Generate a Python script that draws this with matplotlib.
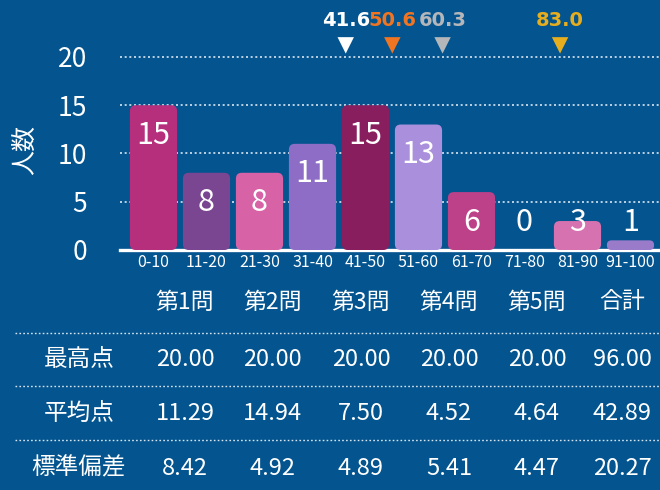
import numpy as np
import matplotlib
matplotlib.use('Agg')
import matplotlib.pyplot as plt
from matplotlib.patches import FancyBboxPatch
from matplotlib.lines import Line2D

# data
bins = ['0-10', '11-20', '21-30', '31-40', '41-50', '51-60', '61-70', '71-80', '81-90', '91-100']
counts = [15, 8, 8, 11, 15, 13, 6, 0, 3, 1]
bar_colors = ['#B62F7D', '#7A4591', '#D762A6', '#8D6DC5', '#891E5E',
              '#AA8FDD', '#BC4189', '#D05C9E', '#D772B0', '#9A7BC9']
marker_scores = [41.6, 50.6, 60.3, 83.0]
marker_colors = ['#FFFFFF', '#F07522', '#B4B6BA', '#E6AE1F']

questions = ['第1問', '第2問', '第3問', '第4問', '第5問', '合計']
row_names = ['最高点', '平均点', '標準偏差']
max_pts = [20.00, 20.00, 20.00, 20.00, 20.00, 96.00]
mean_pts = [11.29, 14.94, 7.50, 4.52, 4.64, 42.89]
std_pts = [8.42, 4.92, 4.89, 5.41, 4.47, 20.27]

bg = '#03548F'
plt.rcParams['font.family'] = ['Noto Sans CJK JP', 'DejaVu Sans']

W, H = 660, 490
fig = plt.figure(figsize=(6.6, 4.9), dpi=100, facecolor=bg)
ax = fig.add_axes([120 / W, (H - 250) / H, 540 / W, 250 / H])
ax.set_facecolor(bg)

x = np.arange(len(bins))
ax.set_xlim(-0.632, 9.557)
ax.set_ylim(0, 25.9)

bw = 0.89
aspect = 5.5
for i, v in enumerate(counts):
    if v > 0:
        r = min(0.11, v * 0.5 / aspect * 0.95)
        p = FancyBboxPatch((x[i] - bw / 2, 0), bw, v,
                           boxstyle='round,pad=0,rounding_size=%.3f' % r,
                           mutation_aspect=aspect, fc=bar_colors[i], ec='none', zorder=3)
        ax.add_patch(p)
    ax.text(x[i], max(v - 3.1, 2.9), str(v), color='white', fontsize=22,
            ha='center', va='center', zorder=4)

ax.set_yticks([0, 5, 10, 15, 20])
ax.set_yticklabels(['0', '5', '10', '15', '20'], color='white', fontsize=19)
ax.set_xticks(x)
ax.set_xticklabels(bins, color='white', fontsize=11.5)
ax.tick_params(axis='both', length=0)
ax.tick_params(axis='y', pad=23.5)
ax.tick_params(axis='x', pad=3)
for yv in [5, 10, 15, 20]:
    ax.axhline(yv, color='white', alpha=0.85, lw=1.2, ls=(0, (1.2, 1.6)), zorder=1)
for s in ['top', 'right', 'left']:
    ax.spines[s].set_visible(False)
ax.spines['bottom'].set_color('white')
ax.spines['bottom'].set_linewidth(2.4)
ax.set_ylabel('人数', color='white', fontsize=18)
ax.yaxis.set_label_coords(-0.152, 0.4)

# score markers on a score axis
ax2 = ax.twiny()
ax2.set_xlim(-2.0, 102.3)
ax2.set_ylim(0, 25.9)
ax2.axis('off')
ax2.scatter(marker_scores, [21.2] * 4, marker='v', s=140, c=marker_colors, linewidths=0, clip_on=False)
for s, c in zip(marker_scores, marker_colors):
    ax2.text(s, 23.8, '%.1f' % s, color=c, fontsize=14, fontweight='bold',
             ha='center', va='center', family=['DejaVu Sans'])

# table
def fy(py):
    return (H - py) / H

col_x = [185, 272, 361, 449, 537, 622]
row_y = [360, 413, 468]
for cx, q in zip(col_x, questions):
    fig.text(cx / W, fy(302), q, color='white', fontsize=16.5, ha='center', va='center')
for ly in [333, 386, 440]:
    fig.add_artist(Line2D([15 / W, 1.0], [fy(ly), fy(ly)], color='white', alpha=0.85,
                          lw=1.0, ls=(0, (1.2, 1.6)), transform=fig.transFigure))
for ry, name, vals in zip(row_y, row_names, [max_pts, mean_pts, std_pts]):
    fig.text(79 / W, fy(ry), name, color='white', fontsize=17, ha='center', va='center')
    for cx, v in zip(col_x, vals):
        fig.text(cx / W, fy(ry), '%.2f' % v, color='white', fontsize=17,
                 ha='center', va='center')

fig.savefig('out.png', dpi=100, facecolor=bg)
